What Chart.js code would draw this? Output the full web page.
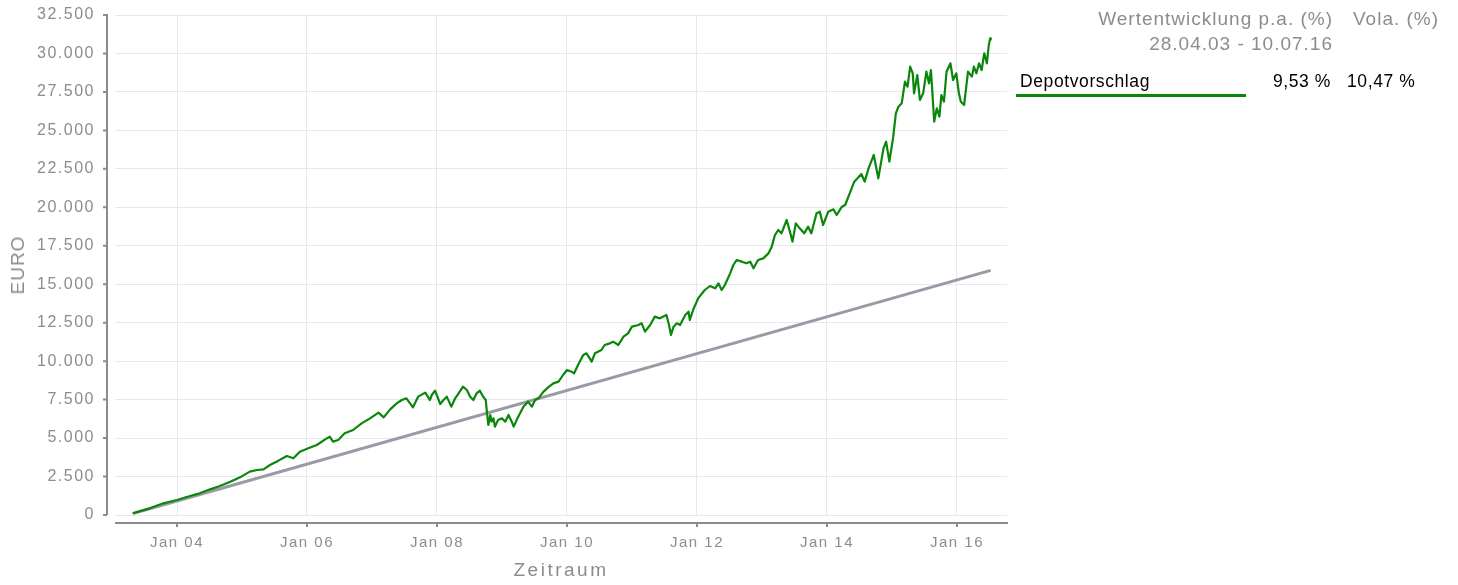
<!DOCTYPE html>
<html>
<head>
<meta charset="utf-8">
<script src="https://cdn.jsdelivr.net/npm/chart.js@4/dist/chart.umd.min.js"></script>
<style>
  body { margin: 0; background: #fff; font-family: "Liberation Sans", Arial, sans-serif; }
  #wrap { position: relative; width: 1458px; height: 585px; overflow: hidden; }
  #chart { position: absolute; left: 0; top: 0; }
  .txt { position: absolute; white-space: nowrap; color: #8c8c8c; }
  .gray { color: #8c8c8c; font-size: 19px; letter-spacing: 1px; }
  .row { color: #000; font-size: 17.5px; letter-spacing: 0.6px; }
</style>
</head>
<body>
<div id="wrap">
  <canvas id="chart" width="1458" height="585"></canvas>
  <div class="txt gray" style="right:125px; top:8px;">Wertentwicklung p.a. (%)</div>
  <div class="txt gray" style="left:1353px; top:8px;">Vola. (%)</div>
  <div class="txt gray" style="right:125px; top:33px;">28.04.03 - 10.07.16</div>
  <div class="txt row" style="left:1020px; top:71px;">Depotvorschlag</div>
  <div class="txt row" style="right:127px; top:71px;">9,53 %</div>
  <div class="txt row" style="left:1347px; top:71px;">10,47 %</div>
  <div style="position:absolute; left:1016px; top:94px; width:230px; height:3px; background:#0a870a;"></div>
  <div class="txt" style="left:18px; top:265px; font-size:19px; letter-spacing:1px; transform:translate(-50%,-50%) rotate(-90deg);">EURO</div>
  <div class="txt" style="left:561px; top:570px; font-size:19px; letter-spacing:2.5px; transform:translate(-50%,-50%);">Zeitraum</div>
</div>
<script>
// ---------------- Data ----------------
const TICK_YEARS = [2004, 2006, 2008, 2010, 2012, 2014, 2016];
const TICK_LABELS = ["Jan 04", "Jan 06", "Jan 08", "Jan 10", "Jan 12", "Jan 14", "Jan 16"];

// Depotvorschlag: time as decimal year, value in EUR
const DEPOT_T = [
  2003.32, 2003.58, 2003.79, 2004.00, 2004.20, 2004.35, 2004.51, 2004.66, 2004.82, 2004.97,
  2005.12, 2005.23, 2005.33, 2005.43, 2005.56, 2005.69, 2005.79, 2005.89, 2006.02, 2006.15,
  2006.28, 2006.35, 2006.40, 2006.48, 2006.58, 2006.71, 2006.84, 2006.97, 2007.10, 2007.18,
  2007.28, 2007.38, 2007.46, 2007.53, 2007.63, 2007.71, 2007.82, 2007.89, 2007.92, 2007.97,
  2008.05, 2008.10, 2008.15, 2008.22, 2008.28, 2008.35, 2008.40, 2008.46, 2008.51, 2008.56,
  2008.61, 2008.66, 2008.71, 2008.75, 2008.77, 2008.79, 2008.82, 2008.84, 2008.87, 2008.89,
  2008.94, 2009.00, 2009.05, 2009.10, 2009.15, 2009.18, 2009.25, 2009.33, 2009.40, 2009.46,
  2009.51, 2009.56, 2009.64, 2009.71, 2009.79, 2009.87, 2009.94, 2010.00, 2010.07, 2010.11,
  2010.17, 2010.25, 2010.30, 2010.35, 2010.38, 2010.43, 2010.53, 2010.58, 2010.66, 2010.71,
  2010.79, 2010.87, 2010.94, 2011.00, 2011.10, 2011.15, 2011.20, 2011.28, 2011.35, 2011.43,
  2011.53, 2011.57, 2011.60, 2011.64, 2011.69, 2011.74, 2011.82, 2011.87, 2011.89, 2011.94,
  2012.02, 2012.12, 2012.20, 2012.28, 2012.33, 2012.38, 2012.43, 2012.51, 2012.56, 2012.61,
  2012.69, 2012.76, 2012.82, 2012.87, 2012.94, 2013.02, 2013.10, 2013.15, 2013.20, 2013.25,
  2013.30, 2013.38, 2013.43, 2013.47, 2013.52, 2013.58, 2013.65, 2013.71, 2013.76, 2013.84,
  2013.89, 2013.94, 2014.02, 2014.10, 2014.15, 2014.23, 2014.28, 2014.35, 2014.42, 2014.47,
  2014.53, 2014.58, 2014.64, 2014.70, 2014.72, 2014.79, 2014.87, 2014.91, 2014.96, 2015.02,
  2015.06, 2015.10, 2015.15, 2015.20, 2015.24, 2015.28, 2015.32, 2015.34, 2015.39, 2015.43,
  2015.48, 2015.53, 2015.57, 2015.60, 2015.65, 2015.69, 2015.73, 2015.76, 2015.80, 2015.84,
  2015.90, 2015.94, 2015.99, 2016.03, 2016.06, 2016.11, 2016.14, 2016.17, 2016.23, 2016.26,
  2016.30, 2016.34, 2016.38, 2016.42, 2016.46, 2016.49, 2016.51, 2016.52
];
const DEPOT_V = [
  110, 433, 758, 975, 1235, 1408, 1668, 1885, 2167, 2448,
  2817, 2925, 2968, 3250, 3532, 3835, 3683, 4117, 4333, 4550,
  4918, 5092, 4767, 4875, 5308, 5525, 5958, 6283, 6652, 6348,
  6868, 7258, 7475, 7583, 7000, 7692, 7952, 7475, 7800, 8082,
  7215, 7475, 7692, 7042, 7583, 8017, 8342, 8125, 7692, 7475,
  7908, 8082, 7692, 7475, 6608, 5850, 6500, 6067, 6283, 5742,
  6175, 6283, 6067, 6500, 6067, 5742, 6392, 7042, 7367, 7042,
  7475, 7583, 8017, 8298, 8558, 8667, 9100, 9425, 9317, 9208,
  9750, 10400, 10508, 10183, 9967, 10508, 10725, 11050, 11158, 11267,
  11050, 11592, 11808, 12242, 12350, 12458, 11917, 12350, 12892, 12783,
  13000, 12350, 11700, 12242, 12458, 12350, 13000, 13217, 12675, 13325,
  14100, 14625, 14885, 14733, 15058, 14625, 14950, 15708, 16250, 16575,
  16467, 16358, 16467, 16033, 16575, 16683, 17008, 17442, 18200, 18525,
  18308, 19175, 18417, 17767, 18958, 18633, 18308, 18742, 18308, 19608,
  19717, 18850, 19717, 19867, 19500, 20042, 20150, 20908, 21667, 21883,
  22165, 21667, 22533, 23183, 23400, 21883, 23833, 24267, 22967, 24592,
  26108, 26542, 26758, 28167, 27842, 29142, 28708, 27408, 28600, 26975,
  27408, 28817, 28058, 28925, 25567, 26433, 25892, 27300, 26865, 28817,
  29358, 28275, 28708, 27408, 26865, 26650, 27733, 28817, 28492, 29142,
  28708, 29358, 28925, 30008, 29358, 30550, 30983, 30900
];

// Einzahlungen (paid-in capital)
const PAID_T = [2003.32, 2016.52];
const PAID_V = [100, 15900];

const X_MIN = 2003.046;
const X_MAX = 2016.77;

const toPoints = (ts, vs) => ts.map((t, i) => ({ x: t, y: vs[i] }));
const fmtThousands = (v) => String(v).replace(/\B(?=(\d{3})+(?!\d))/g, ".");

// ---------------- Axis lines (offset from plot area) ----------------
const axisLines = {
  id: "axisLines",
  beforeDraw(chart) {
    chart.ctx.letterSpacing = "1.5px";
  },
  afterDraw(chart) {
    const { ctx, chartArea: a, scales } = chart;
    ctx.save();
    ctx.strokeStyle = "#8c8c8c";
    ctx.lineWidth = 2;
    ctx.beginPath();
    ctx.moveTo(a.left - 8, a.top - 1);
    ctx.lineTo(a.left - 8, a.bottom);
    ctx.moveTo(a.left, a.bottom + 8);
    ctx.lineTo(a.right + 1, a.bottom + 8);
    scales.y.ticks.forEach(t => {
      const py = scales.y.getPixelForValue(t.value);
      ctx.moveTo(a.left - 8, py);
      ctx.lineTo(a.left - 12, py);
    });
    scales.x.ticks.forEach(t => {
      const px = scales.x.getPixelForValue(t.value);
      ctx.moveTo(px, a.bottom + 8);
      ctx.lineTo(px, a.bottom + 12);
    });
    ctx.stroke();
    ctx.restore();
  }
};

new Chart(document.getElementById("chart"), {
  type: "line",
  data: {
    datasets: [
      { label: "Depotvorschlag", data: toPoints(DEPOT_T, DEPOT_V), borderColor: "#0a870a", borderWidth: 2.2, pointRadius: 0, tension: 0, borderJoinStyle: "round" },
      { label: "Einzahlungen", data: toPoints(PAID_T, PAID_V), borderColor: "#9a9aa6", borderWidth: 3, pointRadius: 0, tension: 0 }
    ]
  },
  options: {
    responsive: false,
    animation: false,
    devicePixelRatio: 1,
    layout: { padding: { left: 0, right: 451, top: 15, bottom: 0 } },
    plugins: { legend: { display: false }, tooltip: { enabled: false } },
    scales: {
      x: {
        type: "linear",
        min: X_MIN,
        max: X_MAX,
        afterBuildTicks: (scale) => { scale.ticks = TICK_YEARS.map(y => ({ value: y })); },
        afterFit: (scale) => { scale.height = 70; },
        ticks: {
          callback: (v) => TICK_LABELS[TICK_YEARS.indexOf(v)],
          color: "#8c8c8c", padding: 19, maxRotation: 0, autoSkip: false,
          font: { family: "Liberation Sans", size: 15 }
        },
        grid: { color: "#e8e8ec", drawTicks: false },
        border: { display: false }
      },
      y: {
        min: 0, max: 32500,
        afterFit: (scale) => { scale.width = 115; scale.paddingTop = 0; scale.paddingBottom = 0; },
        ticks: {
          stepSize: 2500,
          callback: (v) => fmtThousands(v),
          color: "#8c8c8c", padding: 20,
          font: { family: "Liberation Sans", size: 16 }
        },
        grid: { color: "#e8e8ec", drawTicks: false },
        border: { display: false }
      }
    }
  },
  plugins: [axisLines]
});
</script>
</body>
</html>
